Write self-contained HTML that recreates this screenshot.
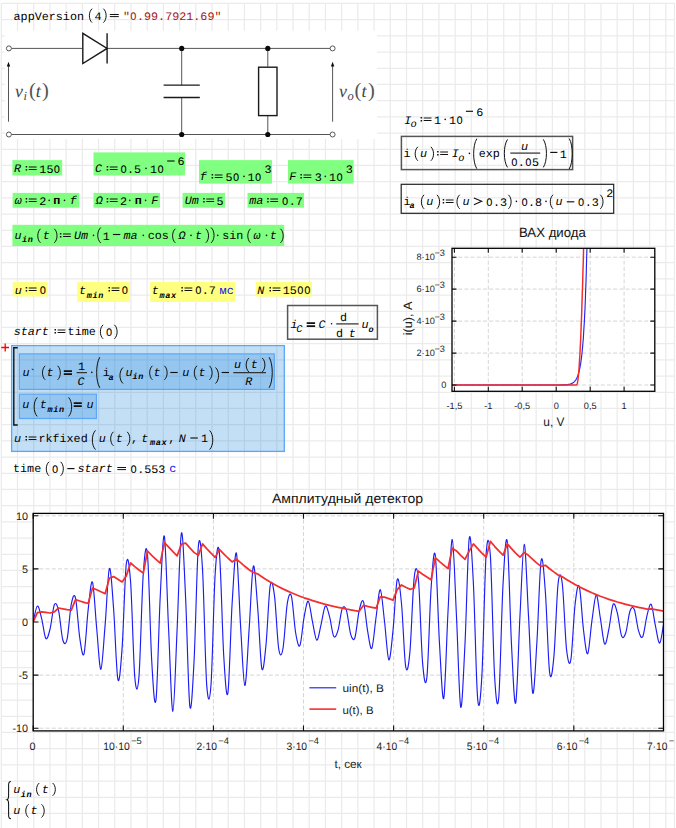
<!DOCTYPE html>
<html><head><meta charset="utf-8"><title>sheet</title>
<style>
html,body{margin:0;padding:0;background:#fff}
body{width:676px;height:828px;overflow:hidden;position:relative}
svg{position:absolute;left:0;top:0;display:block}
text{font-family:"Liberation Mono",monospace;font-size:11.5px;fill:#000;white-space:pre;text-rendering:geometricPrecision}
.i{font-style:italic}
.b{font-weight:bold}
.sb{font-style:italic;font-weight:bold;font-size:8.5px;letter-spacing:0.65px}
.si{font-style:italic;font-size:10.4px}
.str{fill:#a31515}
.un{fill:#0c0cf0}
.p{font-family:"Liberation Sans",sans-serif;font-size:9.2px;fill:#222}
.q{font-family:"Liberation Sans",sans-serif;font-size:10.8px;fill:#222}
.pt{font-family:"Liberation Sans",sans-serif;font-size:13.4px;fill:#111}
.pa{font-family:"Liberation Sans",sans-serif;font-size:12.2px;fill:#222}
.tex{font-family:"Liberation Serif",serif;font-style:italic;font-size:18px;fill:#444}
.texp{font-family:"Liberation Serif",serif;font-size:20.5px;fill:#555}
.texs{font-family:"Liberation Serif",serif;font-style:italic;font-size:12.5px;fill:#444}
</style></head><body>
<svg width="676" height="828" viewBox="0 0 676 828">
<path d="M1.30 3.45V828M17.51 3.45V828M33.72 3.45V828M49.92 3.45V828M66.13 3.45V828M82.34 3.45V828M98.54 3.45V828M114.75 3.45V828M130.96 3.45V828M147.17 3.45V828M163.38 3.45V828M179.58 3.45V828M195.79 3.45V828M212.00 3.45V828M228.21 3.45V828M244.41 3.45V828M260.62 3.45V828M276.83 3.45V828M293.04 3.45V828M309.24 3.45V828M325.45 3.45V828M341.66 3.45V828M357.86 3.45V828M374.07 3.45V828M390.28 3.45V828M406.49 3.45V828M422.69 3.45V828M438.90 3.45V828M455.11 3.45V828M471.32 3.45V828M487.52 3.45V828M503.73 3.45V828M519.94 3.45V828M536.15 3.45V828M552.35 3.45V828M568.56 3.45V828M584.77 3.45V828M600.98 3.45V828M617.18 3.45V828M633.39 3.45V828M649.60 3.45V828M665.81 3.45V828M674.5 3.45V828M1.3 3.45H674.5M1.3 19.65H674.5M1.3 35.85H674.5M1.3 52.05H674.5M1.3 68.25H674.5M1.3 84.45H674.5M1.3 100.65H674.5M1.3 116.85H674.5M1.3 133.05H674.5M1.3 149.25H674.5M1.3 165.45H674.5M1.3 181.65H674.5M1.3 197.85H674.5M1.3 214.05H674.5M1.3 230.25H674.5M1.3 246.45H674.5M1.3 262.65H674.5M1.3 278.85H674.5M1.3 295.05H674.5M1.3 311.25H674.5M1.3 327.45H674.5M1.3 343.65H674.5M1.3 359.85H674.5M1.3 376.05H674.5M1.3 392.25H674.5M1.3 408.45H674.5M1.3 424.65H674.5M1.3 440.85H674.5M1.3 457.05H674.5M1.3 473.25H674.5M1.3 489.45H674.5M1.3 505.65H674.5M1.3 521.85H674.5M1.3 538.05H674.5M1.3 554.25H674.5M1.3 570.45H674.5M1.3 586.65H674.5M1.3 602.85H674.5M1.3 619.05H674.5M1.3 635.25H674.5M1.3 651.45H674.5M1.3 667.65H674.5M1.3 683.85H674.5M1.3 700.05H674.5M1.3 716.25H674.5M1.3 732.45H674.5M1.3 748.65H674.5M1.3 764.85H674.5M1.3 781.05H674.5M1.3 797.25H674.5M1.3 813.45H674.5" stroke="#ebebeb" stroke-width="1.25" fill="none"/>
<rect x="4.8" y="30.7" width="372.2" height="108.5" fill="#fff"/>
<g stroke="#555" stroke-width="1" fill="none"><path d="M11.5 48.4H82.8M107.1 48.4H330.0M11.5 134.5H330.0M181.7 48.4V85.1M181.7 97.5V134.5M267.8 48.4V66.7M267.8 115.6V134.5"/><circle cx="8.9" cy="48.4" r="2.5" fill="#fff"/><circle cx="8.9" cy="134.5" r="2.5" fill="#fff"/><circle cx="332.6" cy="48.4" r="2.5" fill="#fff"/><circle cx="332.6" cy="134.5" r="2.5" fill="#fff"/><path d="M8.5 121.7V64M332.6 121.7V64"/></g>
<g fill="#0a0a0a"><circle cx="181.7" cy="48.4" r="2.6"/><circle cx="181.7" cy="134.5" r="2.6"/><circle cx="267.8" cy="48.4" r="2.6"/><circle cx="267.8" cy="134.5" r="2.6"/><path d="M8.5 61.8l-1.7 4.8h3.4zM332.6 61.8l-1.7 4.8h3.4z"/></g>
<g stroke="#1a1a1a" stroke-width="1.4" fill="none"><path d="M82.8 33.3V63.5L107.1 48.4ZM107.1 33.3V63.5M163.6 85.1H199.8M163.6 97.5H199.8"/><rect x="258.6" y="67.2" width="18.4" height="48.4" fill="#fff"/></g>
<text class="tex" x="15" y="96.5">v</text><text class="texs" x="23.5" y="99.7">i</text><text class="texp" x="29" y="97.3">(</text><text class="tex" x="35.8" y="96.5">t</text><text class="texp" x="42" y="97.3">)</text>
<text class="tex" x="339" y="96.5">v</text><text class="texs" x="347.5" y="99.7">o</text><text class="texp" x="354.6" y="97.3">(</text><text class="tex" x="361.5" y="96.5">t</text><text class="texp" x="368" y="97.3">)</text>
<rect x="12.4" y="160.1" width="49.8" height="15.4" fill="#80ff80"/><rect x="93.5" y="152.4" width="91.6" height="23.1" fill="#80ff80"/><rect x="199" y="160.1" width="73.0" height="23.5" fill="#80ff80"/><rect x="288" y="160.1" width="65.6" height="23.5" fill="#80ff80"/><rect x="12.6" y="192.9" width="66.7" height="14.8" fill="#80ff80"/><rect x="93.5" y="192.9" width="66.5" height="14.8" fill="#80ff80"/><rect x="182.6" y="192.9" width="42.4" height="14.8" fill="#80ff80"/><rect x="247.5" y="192.9" width="56.5" height="14.8" fill="#80ff80"/><rect x="12.4" y="224.8" width="271.8" height="21.2" fill="#80ff80"/><rect x="12.7" y="282" width="34.6" height="14.5" fill="#ffff80"/><rect x="77.2" y="282" width="52.8" height="20.0" fill="#ffff80"/><rect x="150.2" y="282" width="84.9" height="20.0" fill="#ffff80"/><rect x="255.8" y="282" width="56.2" height="14.6" fill="#ffff80"/>
<rect x="287.6" y="305.5" width="89.8" height="33.7" fill="none" stroke="#555" stroke-width="1.5"/>
<rect x="401.4" y="136.4" width="171.2" height="33.2" fill="none" stroke="#555" stroke-width="1.5"/>
<rect x="401.2" y="184.3" width="212.5" height="29" fill="none" stroke="#222" stroke-width="1.2"/>
<rect x="11.6" y="345.6" width="272.7" height="105.8" fill="#0078d7" fill-opacity="0.235" stroke="#5ba6f8" stroke-width="1.3"/>
<rect x="19.4" y="353.9" width="254.9" height="35.5" fill="#0078d7" fill-opacity="0.235" stroke="#5ba6f8" stroke-width="1.2"/>
<rect x="19.4" y="394.2" width="77" height="24.3" fill="#0078d7" fill-opacity="0.235" stroke="#5ba6f8" stroke-width="1.2"/>
<path d="M17.7 347.8H13.8V425H17.7" stroke="#111" stroke-width="1.4" fill="none"/>
<path d="M1.2 347.5H9M5.2 343.6V351.5" stroke="#ff0000" stroke-width="1.3" fill="none"/>
<text transform="translate(13.57 20.00) scale(1.0203 1)">appVersion</text><path d="M92.10 8.70C88.47 11.76 88.47 19.54 92.10 22.60" stroke="#111" stroke-width="1.0" fill="none"/><text transform="translate(94.51 20.00) scale(1.0203 1)">4</text><path d="M103.40 8.70C107.03 11.76 107.03 19.54 103.40 22.60" stroke="#111" stroke-width="1.0" fill="none"/><path d="M109.80 14.50h9.0M109.80 16.60h9.0" stroke="#111" stroke-width="1.0" fill="none"/><text transform="translate(122.91 20.00) scale(1.0203 1)" class="str">" .99.7921.69"</text><text transform="translate(130.37 20.00) scale(0.9 1)" class="str">O</text>
<text transform="translate(13.97 172.00) scale(1.0203 1)" class="i">R</text><path d="M28.80 166.90h7.8M28.80 169.50h7.8" stroke="#111" stroke-width="1.05" fill="none"/><path d="M25.70 166.00h1.5v1.5h-1.5zM25.70 168.90h1.5v1.5h-1.5z" fill="#111"/><text transform="translate(39.35 173.00) scale(1.0203 1)">15 </text><text transform="translate(53.85 173.00) scale(0.9 1)">O</text><text transform="translate(94.94 172.00) scale(1.0203 1)" class="i">C</text><path d="M109.80 166.90h7.8M109.80 169.50h7.8" stroke="#111" stroke-width="1.05" fill="none"/><path d="M106.70 166.00h1.5v1.5h-1.5zM106.70 168.90h1.5v1.5h-1.5z" fill="#111"/><text transform="translate(119.99 173.00) scale(1.0203 1)"> .5</text><text transform="translate(120.40 173.00) scale(0.9 1)">O</text><circle cx="146.00" cy="168.40" r="0.8" fill="#111"/><text transform="translate(149.95 173.00) scale(1.0203 1)">1 </text><text transform="translate(157.41 173.00) scale(0.9 1)">O</text><path d="M167.20 161.00h7.4" stroke="#111" stroke-width="1.15" fill="none"/><text transform="translate(177.43 165.00) scale(1.0203 1)">6</text><text transform="translate(199.76 180.00) scale(1.0203 1)" class="i">f</text><path d="M214.70 174.90h7.8M214.70 177.50h7.8" stroke="#111" stroke-width="1.05" fill="none"/><path d="M211.60 174.00h1.5v1.5h-1.5zM211.60 176.90h1.5v1.5h-1.5z" fill="#111"/><text transform="translate(225.47 181.00) scale(1.0203 1)">5 </text><text transform="translate(232.92 181.00) scale(0.9 1)">O</text><circle cx="244.00" cy="176.40" r="0.8" fill="#111"/><text transform="translate(247.55 181.00) scale(1.0203 1)">1 </text><text transform="translate(255.01 181.00) scale(0.9 1)">O</text><text transform="translate(264.47 173.00) scale(1.0203 1)">3</text><text transform="translate(289.29 180.00) scale(1.0203 1)" class="i">F</text><path d="M303.50 174.90h7.8M303.50 177.50h7.8" stroke="#111" stroke-width="1.05" fill="none"/><path d="M300.40 174.00h1.5v1.5h-1.5zM300.40 176.90h1.5v1.5h-1.5z" fill="#111"/><text transform="translate(314.87 181.00) scale(1.0203 1)">3</text><circle cx="325.30" cy="176.40" r="0.8" fill="#111"/><text transform="translate(328.95 181.00) scale(1.0203 1)">1 </text><text transform="translate(336.41 181.00) scale(0.9 1)">O</text><text transform="translate(345.77 173.00) scale(1.0203 1)">3</text><text transform="translate(14.65 204.00) scale(1.0203 1)" class="i">ω</text><path d="M28.80 198.90h7.8M28.80 201.50h7.8" stroke="#111" stroke-width="1.05" fill="none"/><path d="M25.70 198.00h1.5v1.5h-1.5zM25.70 200.90h1.5v1.5h-1.5z" fill="#111"/><text transform="translate(39.17 205.00) scale(1.0203 1)">2</text><circle cx="49.20" cy="200.40" r="0.8" fill="#111"/><text transform="translate(53.31 204.00) scale(1.0203 1)" class="b">п</text><circle cx="64.50" cy="200.40" r="0.8" fill="#111"/><text transform="translate(69.76 204.00) scale(1.0203 1)" class="i">f</text><text transform="translate(95.86 204.00) scale(1.0203 1)" class="i">Ω</text><path d="M109.80 198.90h7.8M109.80 201.50h7.8" stroke="#111" stroke-width="1.05" fill="none"/><path d="M106.70 198.00h1.5v1.5h-1.5zM106.70 200.90h1.5v1.5h-1.5z" fill="#111"/><text transform="translate(119.88 205.00) scale(1.0203 1)">2</text><circle cx="129.80" cy="200.40" r="0.8" fill="#111"/><text transform="translate(134.71 204.00) scale(1.0203 1)" class="b">п</text><circle cx="145.60" cy="200.40" r="0.8" fill="#111"/><text transform="translate(151.29 204.00) scale(1.0203 1)" class="i">F</text><text transform="translate(184.77 204.00) scale(1.0203 1)" class="i">Um</text><path d="M206.30 198.90h7.8M206.30 201.50h7.8" stroke="#111" stroke-width="1.05" fill="none"/><path d="M203.20 198.00h1.5v1.5h-1.5zM203.20 200.90h1.5v1.5h-1.5z" fill="#111"/><text transform="translate(216.57 205.00) scale(1.0203 1)">5</text><text transform="translate(249.30 204.00) scale(1.0203 1)" class="i">ma</text><path d="M270.30 198.90h7.8M270.30 201.50h7.8" stroke="#111" stroke-width="1.05" fill="none"/><path d="M267.20 198.00h1.5v1.5h-1.5zM267.20 200.90h1.5v1.5h-1.5z" fill="#111"/><text transform="translate(281.69 205.00) scale(1.0203 1)"> .7</text><text transform="translate(282.10 205.00) scale(0.9 1)">O</text>
<text transform="translate(14.43 239.00) scale(1.0203 1)" class="i">u</text><text x="21.95" y="242.20" class="sb">in</text><path d="M40.50 228.80C36.88 231.88 36.88 239.72 40.50 242.80" stroke="#111" stroke-width="1.0" fill="none"/><text transform="translate(42.66 239.00) scale(1.0203 1)" class="i">t</text><path d="M54.30 228.80C57.92 231.88 57.92 239.72 54.30 242.80" stroke="#111" stroke-width="1.0" fill="none"/><path d="M63.00 233.90h7.8M63.00 236.50h7.8" stroke="#111" stroke-width="1.05" fill="none"/><path d="M59.90 233.00h1.5v1.5h-1.5zM59.90 235.90h1.5v1.5h-1.5z" fill="#111"/><text transform="translate(73.97 239.00) scale(1.0203 1)" class="i">Um</text><circle cx="93.50" cy="235.40" r="0.8" fill="#111"/><path d="M100.80 227.50C96.74 230.91 96.74 239.59 100.80 243.00" stroke="#111" stroke-width="1.0" fill="none"/><text transform="translate(102.75 240.00) scale(1.0203 1)">1</text><path d="M112.90 234.50h7.4" stroke="#111" stroke-width="1.15" fill="none"/><text transform="translate(123.50 239.00) scale(1.0203 1)" class="i">ma</text><circle cx="143.30" cy="235.40" r="0.8" fill="#111"/><text transform="translate(147.66 239.00) scale(1.0203 1)">cos</text><path d="M175.30 228.80C171.68 231.88 171.68 239.72 175.30 242.80" stroke="#111" stroke-width="1.0" fill="none"/><text transform="translate(178.46 239.00) scale(1.0203 1)" class="i">Ω</text><circle cx="191.00" cy="235.40" r="0.8" fill="#111"/><text transform="translate(195.06 239.00) scale(1.0203 1)" class="i">t</text><path d="M205.80 228.80C209.43 231.88 209.43 239.72 205.80 242.80" stroke="#111" stroke-width="1.0" fill="none"/><path d="M211.00 227.50C215.06 230.91 215.06 239.59 211.00 243.00" stroke="#111" stroke-width="1.0" fill="none"/><circle cx="217.70" cy="235.40" r="0.8" fill="#111"/><text transform="translate(222.24 239.00) scale(1.0203 1)">sin</text><path d="M250.50 228.80C246.88 231.88 246.88 239.72 250.50 242.80" stroke="#111" stroke-width="1.0" fill="none"/><text transform="translate(253.45 239.00) scale(1.0203 1)" class="i">ω</text><circle cx="266.50" cy="235.40" r="0.8" fill="#111"/><text transform="translate(269.86 239.00) scale(1.0203 1)" class="i">t</text><path d="M280.50 228.80C284.12 231.88 284.12 239.72 280.50 242.80" stroke="#111" stroke-width="1.0" fill="none"/>
<text transform="translate(14.73 294.00) scale(1.0203 1)" class="i">u</text><path d="M28.80 287.90h7.8M28.80 290.50h7.8" stroke="#111" stroke-width="1.05" fill="none"/><path d="M25.70 287.00h1.5v1.5h-1.5zM25.70 289.90h1.5v1.5h-1.5z" fill="#111"/><text transform="translate(39.70 294.00) scale(0.9 1)">O</text><text transform="translate(79.06 294.00) scale(1.0203 1)" class="i">t</text><text x="86.72" y="297.80" class="sb">min</text><path d="M111.60 287.90h7.8M111.60 290.50h7.8" stroke="#111" stroke-width="1.05" fill="none"/><path d="M108.50 287.00h1.5v1.5h-1.5zM108.50 289.90h1.5v1.5h-1.5z" fill="#111"/><text transform="translate(121.70 294.00) scale(0.9 1)">O</text><text transform="translate(151.76 294.00) scale(1.0203 1)" class="i">t</text><text x="159.42" y="297.80" class="sb">max</text><path d="M184.50 287.90h7.8M184.50 290.50h7.8" stroke="#111" stroke-width="1.05" fill="none"/><path d="M181.40 287.00h1.5v1.5h-1.5zM181.40 289.90h1.5v1.5h-1.5z" fill="#111"/><text transform="translate(194.79 294.00) scale(1.0203 1)"> .7</text><text transform="translate(195.20 294.00) scale(0.9 1)">O</text><text transform="translate(219.62 294.00) scale(1.0203 1)" class="un">мс</text><text transform="translate(257.27 294.00) scale(1.0203 1)" class="i">N</text><path d="M272.60 287.90h7.8M272.60 290.50h7.8" stroke="#111" stroke-width="1.05" fill="none"/><path d="M269.50 287.00h1.5v1.5h-1.5zM269.50 289.90h1.5v1.5h-1.5z" fill="#111"/><text transform="translate(282.65 294.00) scale(1.0203 1)">15  </text><text transform="translate(297.15 294.00) scale(0.9 1)">O</text><text transform="translate(304.19 294.00) scale(0.9 1)">O</text>
<text transform="translate(13.67 335.00) scale(1.0203 1)" class="i">start</text><path d="M57.60 329.90h7.8M57.60 332.50h7.8" stroke="#111" stroke-width="1.05" fill="none"/><path d="M54.50 329.00h1.5v1.5h-1.5zM54.50 331.90h1.5v1.5h-1.5z" fill="#111"/><text transform="translate(67.61 335.00) scale(1.0203 1)">time</text><path d="M103.10 324.80C99.47 327.88 99.47 335.72 103.10 338.80" stroke="#111" stroke-width="1.0" fill="none"/><text transform="translate(106.10 336.00) scale(0.9 1)">O</text><path d="M114.40 324.80C118.03 327.88 118.03 335.72 114.40 338.80" stroke="#111" stroke-width="1.0" fill="none"/>
<text transform="translate(290.38 328.00) scale(1.0203 1)" class="i">i</text><text x="296.21" y="332.00" class="si">C</text><path d="M306.70 323.10h8.4M306.70 326.00h8.4" stroke="#111" stroke-width="1.75" fill="none"/><text transform="translate(318.44 328.00) scale(1.0203 1)" class="i">C</text><circle cx="331.6" cy="323.7" r="0.8" fill="#111"/><text transform="translate(340.11 321.00) scale(1.0203 1)">d</text><path d="M336.20 323.90H358.60" stroke="#333" stroke-width="1.25" fill="none"/><text transform="translate(335.91 337.00) scale(1.0203 1)">d</text><text transform="translate(348.66 337.00) scale(1.0203 1)" class="i">t</text><text transform="translate(361.53 328.00) scale(1.0203 1)" class="i">u</text><text x="368.48" y="332.00" class="sb">o</text>
<text transform="translate(22.53 376.00) scale(1.0203 1)" class="i">u</text><text transform="translate(29.30 377.00) scale(1.0203 1)">`</text><path d="M45.20 365.80C41.58 368.88 41.58 376.72 45.20 379.80" stroke="#111" stroke-width="1.0" fill="none"/><text transform="translate(46.56 376.00) scale(1.0203 1)" class="i">t</text><path d="M57.60 365.80C61.23 368.88 61.23 376.72 57.60 379.80" stroke="#111" stroke-width="1.0" fill="none"/><path d="M63.80 371.10h8.2M63.80 374.00h8.2" stroke="#111" stroke-width="1.75" fill="none"/><text transform="translate(77.95 370.00) scale(1.0203 1)">1</text><path d="M76.60 372.60H87.00" stroke="#333" stroke-width="1.25" fill="none"/><text transform="translate(77.54 385.00) scale(1.0203 1)" class="i">C</text><circle cx="91.80" cy="372.40" r="0.8" fill="#111"/><path d="M99.80 357.20C95.59 363.93 95.59 381.07 99.80 387.80" stroke="#111" stroke-width="1.0" fill="none"/><text transform="translate(102.78 376.00) scale(1.0203 1)">i</text><text x="108.39" y="379.60" class="sb">a</text><path d="M123.00 367.50C118.94 371.02 118.94 379.98 123.00 383.50" stroke="#111" stroke-width="1.0" fill="none"/><text transform="translate(125.43 376.00) scale(1.0203 1)" class="i">u</text><text x="132.55" y="379.40" class="sb">in</text><path d="M152.40 365.80C148.78 368.88 148.78 376.72 152.40 379.80" stroke="#111" stroke-width="1.0" fill="none"/><text transform="translate(153.56 376.00) scale(1.0203 1)" class="i">t</text><path d="M164.40 365.80C168.03 368.88 168.03 376.72 164.40 379.80" stroke="#111" stroke-width="1.0" fill="none"/><path d="M170.30 372.50h7.4" stroke="#111" stroke-width="1.15" fill="none"/><text transform="translate(182.13 376.00) scale(1.0203 1)" class="i">u</text><path d="M197.00 365.80C193.38 368.88 193.38 376.72 197.00 379.80" stroke="#111" stroke-width="1.0" fill="none"/><text transform="translate(198.46 376.00) scale(1.0203 1)" class="i">t</text><path d="M209.40 365.80C213.03 368.88 213.03 376.72 209.40 379.80" stroke="#111" stroke-width="1.0" fill="none"/><path d="M215.50 367.50C219.56 371.02 219.56 379.98 215.50 383.50" stroke="#111" stroke-width="1.0" fill="none"/><path d="M221.60 372.50h7.4" stroke="#111" stroke-width="1.15" fill="none"/><text transform="translate(234.03 368.00) scale(1.0203 1)" class="i">u</text><path d="M248.90 358.00C245.28 361.08 245.28 368.92 248.90 372.00" stroke="#111" stroke-width="1.0" fill="none"/><text transform="translate(250.66 368.00) scale(1.0203 1)" class="i">t</text><path d="M262.20 358.00C265.82 361.08 265.82 368.92 262.20 372.00" stroke="#111" stroke-width="1.0" fill="none"/><path d="M233.30 372.50H266.00" stroke="#333" stroke-width="1.25" fill="none"/><text transform="translate(245.27 385.00) scale(1.0203 1)" class="i">R</text><path d="M269.10 357.20C273.31 363.93 273.31 381.07 269.10 387.80" stroke="#111" stroke-width="1.0" fill="none"/>
<text transform="translate(22.13 408.00) scale(1.0203 1)" class="i">u</text><path d="M37.20 397.40C33.14 401.58 33.14 412.22 37.20 416.40" stroke="#111" stroke-width="1.0" fill="none"/><text transform="translate(39.76 408.00) scale(1.0203 1)" class="i">t</text><text x="47.52" y="412.00" class="sb">min</text><path d="M68.60 397.40C72.66 401.58 72.66 412.22 68.60 416.40" stroke="#111" stroke-width="1.0" fill="none"/><path d="M73.70 403.10h8.1M73.70 406.00h8.1" stroke="#111" stroke-width="1.75" fill="none"/><text transform="translate(86.43 408.00) scale(1.0203 1)" class="i">u</text>
<text transform="translate(14.03 442.00) scale(1.0203 1)" class="i">u</text><path d="M28.60 436.90h7.8M28.60 439.50h7.8" stroke="#111" stroke-width="1.05" fill="none"/><path d="M25.50 436.00h1.5v1.5h-1.5zM25.50 438.90h1.5v1.5h-1.5z" fill="#111"/><text transform="translate(38.41 442.00) scale(1.0203 1)">rkfixed</text><path d="M95.50 430.40C91.29 434.62 91.29 445.38 95.50 449.60" stroke="#111" stroke-width="1.0" fill="none"/><text transform="translate(98.63 442.00) scale(1.0203 1)" class="i">u</text><path d="M113.40 431.80C109.78 434.88 109.78 442.72 113.40 445.80" stroke="#111" stroke-width="1.0" fill="none"/><text transform="translate(115.66 442.00) scale(1.0203 1)" class="i">t</text><path d="M127.10 431.80C130.72 434.88 130.72 442.72 127.10 445.80" stroke="#111" stroke-width="1.0" fill="none"/><text transform="translate(131.12 442.00) scale(1.0203 1)">,</text><text transform="translate(141.16 442.00) scale(1.0203 1)" class="i">t</text><text x="150.12" y="445.20" class="sb">max</text><text transform="translate(168.22 442.00) scale(1.0203 1)">,</text><text transform="translate(178.77 442.00) scale(1.0203 1)" class="i">N</text><path d="M190.40 438.00h7.4" stroke="#111" stroke-width="1.15" fill="none"/><text transform="translate(201.05 442.00) scale(1.0203 1)">1</text><path d="M209.60 430.40C213.81 434.62 213.81 445.38 209.60 449.60" stroke="#111" stroke-width="1.0" fill="none"/>
<text transform="translate(13.01 472.00) scale(1.0203 1)">time</text><path d="M49.00 461.80C45.38 464.88 45.38 472.72 49.00 475.80" stroke="#111" stroke-width="1.0" fill="none"/><text transform="translate(51.90 473.00) scale(0.9 1)">O</text><path d="M60.60 461.80C64.22 464.88 64.22 472.72 60.60 475.80" stroke="#111" stroke-width="1.0" fill="none"/><path d="M67.30 468.60h7.2" stroke="#111" stroke-width="1.15" fill="none"/><text transform="translate(77.57 472.00) scale(1.0203 1)" class="i">start</text><path d="M117.30 467.50h8.7M117.30 469.60h8.7" stroke="#111" stroke-width="1.0" fill="none"/><text transform="translate(130.19 473.00) scale(1.0203 1)"> .553</text><text transform="translate(130.60 473.00) scale(0.9 1)">O</text><text transform="translate(169.26 472.00) scale(1.0203 1)" class="un">с</text>
<path d="M10.9 781.4Q8.6 781.4 8.6 784.8V795.6Q8.6 799.4 7.1 799.8Q8.6 800.2 8.6 804V815.2Q8.6 818.6 10.9 818.6" stroke="#111" stroke-width="1.05" fill="none"/><text transform="translate(13.23 793.00) scale(1.0203 1)" class="i">u</text><text x="20.75" y="796.80" class="sb">in</text><path d="M39.30 783.00C35.67 785.82 35.67 792.98 39.30 795.80" stroke="#111" stroke-width="1.0" fill="none"/><text transform="translate(41.66 793.00) scale(1.0203 1)" class="i">t</text><path d="M52.60 783.00C56.23 785.82 56.23 792.98 52.60 795.80" stroke="#111" stroke-width="1.0" fill="none"/><text transform="translate(13.23 814.00) scale(1.0203 1)" class="i">u</text><path d="M28.50 804.30C24.88 807.20 24.88 814.60 28.50 817.50" stroke="#111" stroke-width="1.0" fill="none"/><text transform="translate(30.46 814.00) scale(1.0203 1)" class="i">t</text><path d="M41.50 804.30C45.12 807.20 45.12 814.60 41.50 817.50" stroke="#111" stroke-width="1.0" fill="none"/>
<text transform="translate(404.24 124.00) scale(1.0203 1)" class="i">I</text><text x="410.43" y="127.40" class="si">o</text><path d="M423.70 117.90h7.8M423.70 120.50h7.8" stroke="#111" stroke-width="1.05" fill="none"/><path d="M420.60 117.00h1.5v1.5h-1.5zM420.60 119.90h1.5v1.5h-1.5z" fill="#111"/><text transform="translate(434.05 124.00) scale(1.0203 1)">1</text><circle cx="445.20" cy="119.40" r="0.8" fill="#111"/><text transform="translate(448.95 124.00) scale(1.0203 1)">1 </text><text transform="translate(456.41 124.00) scale(0.9 1)">O</text><path d="M465.90 111.30h7.1" stroke="#111" stroke-width="1.15" fill="none"/><text transform="translate(476.33 116.00) scale(1.0203 1)">6</text><text transform="translate(403.38 157.00) scale(1.0203 1)">i</text><path d="M417.90 146.80C414.27 149.88 414.27 157.72 417.90 160.80" stroke="#111" stroke-width="1.0" fill="none"/><text transform="translate(420.03 157.00) scale(1.0203 1)" class="i">u</text><path d="M430.80 146.80C434.43 149.88 434.43 157.72 430.80 160.80" stroke="#111" stroke-width="1.0" fill="none"/><path d="M440.20 151.90h7.8M440.20 154.50h7.8" stroke="#111" stroke-width="1.05" fill="none"/><path d="M437.10 151.00h1.5v1.5h-1.5zM437.10 153.90h1.5v1.5h-1.5z" fill="#111"/><text transform="translate(451.74 157.00) scale(1.0203 1)" class="i">I</text><text x="458.13" y="160.80" class="si">o</text><circle cx="469.40" cy="153.40" r="0.8" fill="#111"/><path d="M476.80 138.70C472.59 145.30 472.59 162.10 476.80 168.70" stroke="#111" stroke-width="1.0" fill="none"/><text transform="translate(478.64 157.00) scale(1.0203 1)">exp</text><path d="M507.50 139.40C503.30 145.56 503.30 161.24 507.50 167.40" stroke="#111" stroke-width="1.0" fill="none"/><text transform="translate(520.93 150.00) scale(1.0203 1)" class="i">u</text><path d="M510.30 153.10H540.20" stroke="#333" stroke-width="1.25" fill="none"/><text transform="translate(510.79 166.00) scale(1.0203 1)"> . 5</text><text transform="translate(511.20 166.00) scale(0.9 1)">O</text><text transform="translate(525.28 166.00) scale(0.9 1)">O</text><path d="M543.30 139.40C547.50 145.56 547.50 161.24 543.30 167.40" stroke="#111" stroke-width="1.0" fill="none"/><path d="M550.20 152.40h7.2" stroke="#111" stroke-width="1.15" fill="none"/><text transform="translate(559.85 158.00) scale(1.0203 1)">1</text><path d="M569.20 138.50C573.26 145.21 573.26 162.29 569.20 169.00" stroke="#111" stroke-width="1.0" fill="none"/>
<text transform="translate(403.38 205.00) scale(1.0203 1)">i</text><text x="409.59" y="208.40" class="sb">a</text><path d="M424.10 194.80C420.48 197.88 420.48 205.72 424.10 208.80" stroke="#111" stroke-width="1.0" fill="none"/><text transform="translate(426.23 205.00) scale(1.0203 1)" class="i">u</text><path d="M436.90 194.80C440.52 197.88 440.52 205.72 436.90 208.80" stroke="#111" stroke-width="1.0" fill="none"/><path d="M445.80 199.90h7.8M445.80 202.50h7.8" stroke="#111" stroke-width="1.05" fill="none"/><path d="M442.70 199.00h1.5v1.5h-1.5zM442.70 201.90h1.5v1.5h-1.5z" fill="#111"/><path d="M459.70 194.80C456.07 197.88 456.07 205.72 459.70 208.80" stroke="#111" stroke-width="1.0" fill="none"/><text transform="translate(462.43 205.00) scale(1.0203 1)" class="i">u</text><path d="M473.9 197.9L481.7 201.3L473.9 204.7" stroke="#111" stroke-width="1.1" fill="none"/><text transform="translate(485.89 206.00) scale(1.0203 1)"> .3</text><text transform="translate(486.30 206.00) scale(0.9 1)">O</text><path d="M508.40 194.80C512.02 197.88 512.02 205.72 508.40 208.80" stroke="#111" stroke-width="1.0" fill="none"/><circle cx="516.40" cy="201.40" r="0.8" fill="#111"/><text transform="translate(520.99 206.00) scale(1.0203 1)"> .8</text><text transform="translate(521.40 206.00) scale(0.9 1)">O</text><circle cx="546.00" cy="201.40" r="0.8" fill="#111"/><path d="M553.00 194.80C549.38 197.88 549.38 205.72 553.00 208.80" stroke="#111" stroke-width="1.0" fill="none"/><text transform="translate(555.53 205.00) scale(1.0203 1)" class="i">u</text><path d="M566.80 201.80h7.5" stroke="#111" stroke-width="1.15" fill="none"/><text transform="translate(577.59 206.00) scale(1.0203 1)"> .3</text><text transform="translate(578.00 206.00) scale(0.9 1)">O</text><path d="M600.30 194.80C603.92 197.88 603.92 205.72 600.30 208.80" stroke="#111" stroke-width="1.0" fill="none"/><text transform="translate(606.17 197.00) scale(1.0203 1)">2</text>
<rect x="452.0" y="248.3" width="202.8" height="143.0" fill="#fff"/><path d="M454.4 248.3V391.3M488.3 248.3V391.3M522.2 248.3V391.3M556.2 248.3V391.3M590.2 248.3V391.3M624.1 248.3V391.3M452.0 385.0H654.8M452.0 353.1H654.8M452.0 321.1H654.8M452.0 289.1H654.8M452.0 257.2H654.8" stroke="#cdcdcd" stroke-width="0.85" stroke-dasharray="4 2.2" fill="none"/><clipPath id="c1"><rect x="452.0" y="248.3" width="202.8" height="143.0"/></clipPath><g clip-path="url(#c1)" fill="none"><polyline points="452.3,385.0 452.7,385.0 453.0,385.0 453.3,385.0 453.7,385.0 454.0,385.0 454.3,385.0 454.7,385.0 455.0,385.0 455.4,385.0 455.7,385.0 456.0,385.0 456.4,385.0 456.7,385.0 457.1,385.0 457.4,385.0 457.7,385.0 458.1,385.0 458.4,385.0 458.7,385.0 459.1,385.0 459.4,385.0 459.8,385.0 460.1,385.0 460.4,385.0 460.8,385.0 461.1,385.0 461.4,385.0 461.8,385.0 462.1,385.0 462.5,385.0 462.8,385.0 463.1,385.0 463.5,385.0 463.8,385.0 464.2,385.0 464.5,385.0 464.8,385.0 465.2,385.0 465.5,385.0 465.8,385.0 466.2,385.0 466.5,385.0 466.9,385.0 467.2,385.0 467.5,385.0 467.9,385.0 468.2,385.0 468.6,385.0 468.9,385.0 469.2,385.0 469.6,385.0 469.9,385.0 470.2,385.0 470.6,385.0 470.9,385.0 471.3,385.0 471.6,385.0 471.9,385.0 472.3,385.0 472.6,385.0 473.0,385.0 473.3,385.0 473.6,385.0 474.0,385.0 474.3,385.0 474.6,385.0 475.0,385.0 475.3,385.0 475.7,385.0 476.0,385.0 476.3,385.0 476.7,385.0 477.0,385.0 477.4,385.0 477.7,385.0 478.0,385.0 478.4,385.0 478.7,385.0 479.0,385.0 479.4,385.0 479.7,385.0 480.1,385.0 480.4,385.0 480.7,385.0 481.1,385.0 481.4,385.0 481.8,385.0 482.1,385.0 482.4,385.0 482.8,385.0 483.1,385.0 483.4,385.0 483.8,385.0 484.1,385.0 484.5,385.0 484.8,385.0 485.1,385.0 485.5,385.0 485.8,385.0 486.1,385.0 486.5,385.0 486.8,385.0 487.2,385.0 487.5,385.0 487.8,385.0 488.2,385.0 488.5,385.0 488.9,385.0 489.2,385.0 489.5,385.0 489.9,385.0 490.2,385.0 490.5,385.0 490.9,385.0 491.2,385.0 491.6,385.0 491.9,385.0 492.2,385.0 492.6,385.0 492.9,385.0 493.3,385.0 493.6,385.0 493.9,385.0 494.3,385.0 494.6,385.0 494.9,385.0 495.3,385.0 495.6,385.0 496.0,385.0 496.3,385.0 496.6,385.0 497.0,385.0 497.3,385.0 497.7,385.0 498.0,385.0 498.3,385.0 498.7,385.0 499.0,385.0 499.3,385.0 499.7,385.0 500.0,385.0 500.4,385.0 500.7,385.0 501.0,385.0 501.4,385.0 501.7,385.0 502.1,385.0 502.4,385.0 502.7,385.0 503.1,385.0 503.4,385.0 503.7,385.0 504.1,385.0 504.4,385.0 504.8,385.0 505.1,385.0 505.4,385.0 505.8,385.0 506.1,385.0 506.5,385.0 506.8,385.0 507.1,385.0 507.5,385.0 507.8,385.0 508.1,385.0 508.5,385.0 508.8,385.0 509.2,385.0 509.5,385.0 509.8,385.0 510.2,385.0 510.5,385.0 510.9,385.0 511.2,385.0 511.5,385.0 511.9,385.0 512.2,385.0 512.5,385.0 512.9,385.0 513.2,385.0 513.6,385.0 513.9,385.0 514.2,385.0 514.6,385.0 514.9,385.0 515.2,385.0 515.6,385.0 515.9,385.0 516.3,385.0 516.6,385.0 516.9,385.0 517.3,385.0 517.6,385.0 518.0,385.0 518.3,385.0 518.6,385.0 519.0,385.0 519.3,385.0 519.6,385.0 520.0,385.0 520.3,385.0 520.7,385.0 521.0,385.0 521.3,385.0 521.7,385.0 522.0,385.0 522.4,385.0 522.7,385.0 523.0,385.0 523.4,385.0 523.7,385.0 524.0,385.0 524.4,385.0 524.7,385.0 525.1,385.0 525.4,385.0 525.7,385.0 526.1,385.0 526.4,385.0 526.8,385.0 527.1,385.0 527.4,385.0 527.8,385.0 528.1,385.0 528.4,385.0 528.8,385.0 529.1,385.0 529.5,385.0 529.8,385.0 530.1,385.0 530.5,385.0 530.8,385.0 531.2,385.0 531.5,385.0 531.8,385.0 532.2,385.0 532.5,385.0 532.8,385.0 533.2,385.0 533.5,385.0 533.9,385.0 534.2,385.0 534.5,385.0 534.9,385.0 535.2,385.0 535.6,385.0 535.9,385.0 536.2,385.0 536.6,385.0 536.9,385.0 537.2,385.0 537.6,385.0 537.9,385.0 538.3,385.0 538.6,385.0 538.9,385.0 539.3,385.0 539.6,385.0 540.0,385.0 540.3,385.0 540.6,385.0 541.0,385.0 541.3,385.0 541.6,385.0 542.0,385.0 542.3,385.0 542.7,385.0 543.0,385.0 543.3,385.0 543.7,385.0 544.0,385.0 544.3,385.0 544.7,385.0 545.0,385.0 545.4,385.0 545.7,385.0 546.0,385.0 546.4,385.0 546.7,385.0 547.1,385.0 547.4,385.0 547.7,385.0 548.1,385.0 548.4,385.0 548.7,385.0 549.1,385.0 549.4,385.0 549.8,385.0 550.1,385.0 550.4,385.0 550.8,385.0 551.1,385.0 551.5,385.0 551.8,385.0 552.1,385.0 552.5,385.0 552.8,385.0 553.1,385.0 553.5,385.0 553.8,385.0 554.2,385.0 554.5,385.0 554.8,385.0 555.2,385.0 555.5,385.0 555.9,385.0 556.2,385.0 556.5,385.0 556.9,385.0 557.2,385.0 557.5,385.0 557.9,385.0 558.2,385.0 558.6,385.0 558.9,385.0 559.2,385.0 559.6,385.0 559.9,385.0 560.3,385.0 560.6,385.0 560.9,385.0 561.3,384.9 561.6,384.9 561.9,384.9 562.3,384.9 562.6,384.9 563.0,384.9 563.3,384.9 563.6,384.9 564.0,384.9 564.3,384.8 564.7,384.8 565.0,384.8 565.3,384.8 565.7,384.8 566.0,384.7 566.3,384.7 566.7,384.7 567.0,384.6 567.4,384.6 567.7,384.5 568.0,384.5 568.4,384.4 568.7,384.4 569.1,384.3 569.4,384.2 569.7,384.2 570.1,384.1 570.4,384.0 570.7,383.9 571.1,383.7 571.4,383.6 571.8,383.5 572.1,383.3 572.4,383.1 572.8,382.9 573.1,382.7 573.4,382.4 573.8,382.2 574.1,381.9 574.5,381.6 574.8,381.2 575.1,380.8 575.5,380.3 575.8,379.9 576.2,379.3 576.5,378.7 576.8,378.1 577.2,377.3 577.5,376.5 577.8,375.6 578.2,374.6 578.5,373.6 578.9,372.4 579.2,371.0 579.5,369.6 579.9,367.9 580.2,366.2 580.6,364.2 580.9,362.0 581.2,359.6 581.6,356.9 581.9,354.0 582.2,350.7 582.6,347.1 582.9,343.1 583.3,338.8 583.6,333.9 583.9,328.6 584.3,322.6 584.6,316.1 585.0,308.9 585.3,300.9 585.6,292.1 586.0,282.3 586.3,271.6 586.6,259.7 587.0,246.6 587.3,232.0 587.7,216.0 588.0,198.3 588.3,178.7 588.7,157.1 589.0,133.2 589.4,106.8 589.7,77.7" stroke="#2222f2" stroke-width="1.15"/><polyline points="452.3,385.0 452.7,385.0 453.0,385.0 453.3,385.0 453.7,385.0 454.0,385.0 454.3,385.0 454.7,385.0 455.0,385.0 455.4,385.0 455.7,385.0 456.0,385.0 456.4,385.0 456.7,385.0 457.1,385.0 457.4,385.0 457.7,385.0 458.1,385.0 458.4,385.0 458.7,385.0 459.1,385.0 459.4,385.0 459.8,385.0 460.1,385.0 460.4,385.0 460.8,385.0 461.1,385.0 461.4,385.0 461.8,385.0 462.1,385.0 462.5,385.0 462.8,385.0 463.1,385.0 463.5,385.0 463.8,385.0 464.2,385.0 464.5,385.0 464.8,385.0 465.2,385.0 465.5,385.0 465.8,385.0 466.2,385.0 466.5,385.0 466.9,385.0 467.2,385.0 467.5,385.0 467.9,385.0 468.2,385.0 468.6,385.0 468.9,385.0 469.2,385.0 469.6,385.0 469.9,385.0 470.2,385.0 470.6,385.0 470.9,385.0 471.3,385.0 471.6,385.0 471.9,385.0 472.3,385.0 472.6,385.0 473.0,385.0 473.3,385.0 473.6,385.0 474.0,385.0 474.3,385.0 474.6,385.0 475.0,385.0 475.3,385.0 475.7,385.0 476.0,385.0 476.3,385.0 476.7,385.0 477.0,385.0 477.4,385.0 477.7,385.0 478.0,385.0 478.4,385.0 478.7,385.0 479.0,385.0 479.4,385.0 479.7,385.0 480.1,385.0 480.4,385.0 480.7,385.0 481.1,385.0 481.4,385.0 481.8,385.0 482.1,385.0 482.4,385.0 482.8,385.0 483.1,385.0 483.4,385.0 483.8,385.0 484.1,385.0 484.5,385.0 484.8,385.0 485.1,385.0 485.5,385.0 485.8,385.0 486.1,385.0 486.5,385.0 486.8,385.0 487.2,385.0 487.5,385.0 487.8,385.0 488.2,385.0 488.5,385.0 488.9,385.0 489.2,385.0 489.5,385.0 489.9,385.0 490.2,385.0 490.5,385.0 490.9,385.0 491.2,385.0 491.6,385.0 491.9,385.0 492.2,385.0 492.6,385.0 492.9,385.0 493.3,385.0 493.6,385.0 493.9,385.0 494.3,385.0 494.6,385.0 494.9,385.0 495.3,385.0 495.6,385.0 496.0,385.0 496.3,385.0 496.6,385.0 497.0,385.0 497.3,385.0 497.7,385.0 498.0,385.0 498.3,385.0 498.7,385.0 499.0,385.0 499.3,385.0 499.7,385.0 500.0,385.0 500.4,385.0 500.7,385.0 501.0,385.0 501.4,385.0 501.7,385.0 502.1,385.0 502.4,385.0 502.7,385.0 503.1,385.0 503.4,385.0 503.7,385.0 504.1,385.0 504.4,385.0 504.8,385.0 505.1,385.0 505.4,385.0 505.8,385.0 506.1,385.0 506.5,385.0 506.8,385.0 507.1,385.0 507.5,385.0 507.8,385.0 508.1,385.0 508.5,385.0 508.8,385.0 509.2,385.0 509.5,385.0 509.8,385.0 510.2,385.0 510.5,385.0 510.9,385.0 511.2,385.0 511.5,385.0 511.9,385.0 512.2,385.0 512.5,385.0 512.9,385.0 513.2,385.0 513.6,385.0 513.9,385.0 514.2,385.0 514.6,385.0 514.9,385.0 515.2,385.0 515.6,385.0 515.9,385.0 516.3,385.0 516.6,385.0 516.9,385.0 517.3,385.0 517.6,385.0 518.0,385.0 518.3,385.0 518.6,385.0 519.0,385.0 519.3,385.0 519.6,385.0 520.0,385.0 520.3,385.0 520.7,385.0 521.0,385.0 521.3,385.0 521.7,385.0 522.0,385.0 522.4,385.0 522.7,385.0 523.0,385.0 523.4,385.0 523.7,385.0 524.0,385.0 524.4,385.0 524.7,385.0 525.1,385.0 525.4,385.0 525.7,385.0 526.1,385.0 526.4,385.0 526.8,385.0 527.1,385.0 527.4,385.0 527.8,385.0 528.1,385.0 528.4,385.0 528.8,385.0 529.1,385.0 529.5,385.0 529.8,385.0 530.1,385.0 530.5,385.0 530.8,385.0 531.2,385.0 531.5,385.0 531.8,385.0 532.2,385.0 532.5,385.0 532.8,385.0 533.2,385.0 533.5,385.0 533.9,385.0 534.2,385.0 534.5,385.0 534.9,385.0 535.2,385.0 535.6,385.0 535.9,385.0 536.2,385.0 536.6,385.0 536.9,385.0 537.2,385.0 537.6,385.0 537.9,385.0 538.3,385.0 538.6,385.0 538.9,385.0 539.3,385.0 539.6,385.0 540.0,385.0 540.3,385.0 540.6,385.0 541.0,385.0 541.3,385.0 541.6,385.0 542.0,385.0 542.3,385.0 542.7,385.0 543.0,385.0 543.3,385.0 543.7,385.0 544.0,385.0 544.3,385.0 544.7,385.0 545.0,385.0 545.4,385.0 545.7,385.0 546.0,385.0 546.4,385.0 546.7,385.0 547.1,385.0 547.4,385.0 547.7,385.0 548.1,385.0 548.4,385.0 548.7,385.0 549.1,385.0 549.4,385.0 549.8,385.0 550.1,385.0 550.4,385.0 550.8,385.0 551.1,385.0 551.5,385.0 551.8,385.0 552.1,385.0 552.5,385.0 552.8,385.0 553.1,385.0 553.5,385.0 553.8,385.0 554.2,385.0 554.5,385.0 554.8,385.0 555.2,385.0 555.5,385.0 555.9,385.0 556.2,385.0 556.5,385.0 556.9,385.0 557.2,385.0 557.5,385.0 557.9,385.0 558.2,385.0 558.6,385.0 558.9,385.0 559.2,385.0 559.6,385.0 559.9,385.0 560.3,385.0 560.6,385.0 560.9,385.0 561.3,385.0 561.6,385.0 561.9,385.0 562.3,385.0 562.6,385.0 563.0,385.0 563.3,385.0 563.6,385.0 564.0,385.0 564.3,385.0 564.7,385.0 565.0,385.0 565.3,385.0 565.7,385.0 566.0,385.0 566.3,385.0 566.7,385.0 567.0,385.0 567.4,385.0 567.7,385.0 568.0,385.0 568.4,385.0 568.7,385.0 569.1,385.0 569.4,385.0 569.7,385.0 570.1,385.0 570.4,385.0 570.7,385.0 571.1,385.0 571.4,385.0 571.8,385.0 572.1,385.0 572.4,385.0 572.8,385.0 573.1,385.0 573.4,385.0 573.8,385.0 574.1,385.0 574.5,385.0 574.8,385.0 575.1,385.0 575.5,385.0 575.8,385.0 576.2,385.0 576.5,385.0 576.8,384.8 577.2,384.0 577.5,382.6 577.8,380.5 578.2,377.8 578.5,374.4 578.9,370.4 579.2,365.8 579.5,360.6 579.9,354.7 580.2,348.1 580.6,341.0 580.9,333.2 581.2,324.8 581.6,315.7 581.9,306.0 582.2,295.7 582.6,284.7 582.9,273.1 583.3,260.9 583.6,248.0 583.9,234.5 584.3,220.4 584.6,205.6 585.0,190.2 585.3,174.1 585.6,157.5 586.0,140.1 586.3,122.2 586.6,103.6 587.0,84.4" stroke="#f22a2a" stroke-width="1.45"/></g><path d="M454.4 248.3v4.5M454.4 391.3v-4.5M488.3 248.3v4.5M488.3 391.3v-4.5M522.2 248.3v4.5M522.2 391.3v-4.5M556.2 248.3v4.5M556.2 391.3v-4.5M590.2 248.3v4.5M590.2 391.3v-4.5M624.1 248.3v4.5M624.1 391.3v-4.5M452.0 385.0h4.5M654.8 385.0h-4.5M452.0 353.1h4.5M654.8 353.1h-4.5M452.0 321.1h4.5M654.8 321.1h-4.5M452.0 289.1h4.5M654.8 289.1h-4.5M452.0 257.2h4.5M654.8 257.2h-4.5" stroke="#111" stroke-width="1.1" fill="none"/><rect x="452.0" y="248.3" width="202.8" height="143.0" fill="none" stroke="#000" stroke-width="1.3"/>
<text class="pt" x="519" y="237.4" textLength="66.8" lengthAdjust="spacingAndGlyphs">ВАХ диода</text><text class="p" x="416.5" y="259.8">8·10</text><text class="p" x="434.5" y="255.8">−3</text><text class="p" x="416.5" y="291.8">6·10</text><text class="p" x="434.5" y="287.8">−3</text><text class="p" x="416.5" y="323.7">4·10</text><text class="p" x="434.5" y="319.7">−3</text><text class="p" x="416.5" y="355.7">2·10</text><text class="p" x="434.5" y="351.7">−3</text><text class="p" x="441.2" y="388.2">0</text><text class="p" x="454.4" y="408.6" text-anchor="middle">-1,5</text><text class="p" x="488.3" y="408.6" text-anchor="middle">-1</text><text class="p" x="522.2" y="408.6" text-anchor="middle">-0,5</text><text class="p" x="556.2" y="408.6" text-anchor="middle">0</text><text class="p" x="590.2" y="408.6" text-anchor="middle">0,5</text><text class="p" x="624.1" y="408.6" text-anchor="middle">1</text><text class="pa" x="543.3" y="425.8" textLength="21.2" lengthAdjust="spacingAndGlyphs">u, V</text><text class="pa" transform="translate(411.8 335.2) rotate(-90)" textLength="33.6" lengthAdjust="spacingAndGlyphs">i(u), А</text>
<rect x="33.2" y="513.4" width="630.3" height="217.5" fill="#fff"/><path d="M123.3 513.4V730.9M213.4 513.4V730.9M303.5 513.4V730.9M393.6 513.4V730.9M483.7 513.4V730.9M573.8 513.4V730.9M33.2 728.2H663.5M33.2 675.1H663.5M33.2 622.0H663.5M33.2 568.9H663.5M33.2 515.8H663.5" stroke="#cdcdcd" stroke-width="0.85" stroke-dasharray="4 2.2" fill="none"/><clipPath id="c2"><rect x="33.2" y="513.4" width="630.3" height="217.5"/></clipPath><g clip-path="url(#c2)" fill="none" stroke-linejoin="round"><path d="M33.2 622.0C33.9 619.3 36.0 606.5 37.4 606.0C38.8 605.5 40.3 613.5 41.7 618.9C43.1 624.3 44.5 636.9 45.9 638.5C47.3 640.2 48.7 634.4 50.1 628.8C51.5 623.1 53.0 607.7 54.4 604.6C55.8 601.6 57.2 604.8 58.6 610.7C60.0 616.5 61.4 635.2 62.8 640.0C64.2 644.7 65.7 645.1 67.1 639.1C68.5 633.2 69.9 611.0 71.3 604.2C72.7 597.3 74.1 592.3 75.5 598.0C76.9 603.6 78.4 628.9 79.8 638.2C81.2 647.5 82.6 658.6 84.0 653.8C85.4 649.0 86.8 621.4 88.2 609.4C89.6 597.5 91.0 579.0 92.5 582.2C93.9 585.4 95.3 614.0 96.7 628.5C98.1 643.0 99.5 670.1 100.9 669.3C102.3 668.6 103.7 640.9 105.2 624.1C106.6 607.3 108.0 571.1 109.4 568.5C110.8 566.0 112.2 590.4 113.6 608.8C115.0 627.3 116.4 672.8 117.9 679.3C119.3 685.8 120.7 667.3 122.1 648.1C123.5 628.8 124.9 574.9 126.3 563.9C127.7 552.9 129.1 563.0 130.6 581.9C132.0 600.8 133.4 661.6 134.8 677.3C136.2 693.0 137.6 693.5 139.0 676.1C140.4 658.8 141.8 593.5 143.3 573.3C144.7 553.1 146.1 540.3 147.5 554.8C148.9 569.4 150.3 636.2 151.7 660.4C153.1 684.6 154.5 710.6 156.0 700.0C157.4 689.4 158.8 624.3 160.2 597.0C161.6 569.7 163.0 530.6 164.4 536.4C165.8 542.1 167.2 602.1 168.7 631.3C170.1 660.5 171.5 711.7 172.9 711.4C174.3 711.1 175.7 659.3 177.1 629.6C178.5 599.9 179.9 538.5 181.4 533.2C182.8 527.9 184.2 568.8 185.6 597.6C187.0 626.4 188.4 695.1 189.8 705.9C191.2 716.6 192.6 688.5 194.0 662.0C195.5 635.5 196.9 562.5 198.3 547.0C199.7 531.5 201.1 545.9 202.5 568.9C203.9 591.9 205.3 665.6 206.7 684.9C208.2 704.3 209.6 703.5 211.0 684.9C212.4 666.3 213.8 595.3 215.2 573.3C216.6 551.4 218.0 539.5 219.4 553.1C220.9 566.8 222.3 632.1 223.7 655.3C225.1 678.6 226.5 701.3 227.9 692.8C229.3 684.2 230.7 627.1 232.1 603.8C233.6 580.6 235.0 549.5 236.4 553.2C237.8 556.9 239.2 604.2 240.6 626.2C242.0 648.3 243.4 684.9 244.8 685.5C246.3 686.1 247.7 649.5 249.1 629.6C250.5 609.7 251.9 570.4 253.3 566.3C254.7 562.2 256.1 588.3 257.5 605.3C259.0 622.3 260.4 661.7 261.8 668.3C263.2 674.9 264.6 658.7 266.0 644.9C267.4 631.1 268.8 593.9 270.2 585.7C271.7 577.5 273.1 585.3 274.5 595.8C275.9 606.3 277.3 639.7 278.7 648.6C280.1 657.5 281.5 656.4 282.9 649.0C284.4 641.6 285.8 613.0 287.2 604.1C288.6 595.3 290.0 591.4 291.4 596.1C292.8 600.8 294.2 624.3 295.6 632.5C297.0 640.8 298.5 648.2 299.9 645.6C301.3 643.1 302.7 624.6 304.1 617.2C305.5 609.8 306.9 600.3 308.3 601.2C309.7 602.0 311.2 615.9 312.6 622.4C314.0 628.9 315.4 639.7 316.8 640.1C318.2 640.5 319.6 630.6 321.0 624.9C322.4 619.2 323.9 607.5 325.3 606.1C326.7 604.7 328.1 611.3 329.5 616.4C330.9 621.4 332.3 634.0 333.7 636.3C335.1 638.7 336.6 635.0 338.0 630.4C339.4 625.8 340.8 612.1 342.2 608.8C343.6 605.4 345.0 606.1 346.4 610.4C347.8 614.6 349.3 629.8 350.7 634.3C352.1 638.9 353.5 641.6 354.9 637.7C356.3 633.8 357.7 617.0 359.1 611.0C360.5 604.9 362.0 598.1 363.4 601.4C364.8 604.7 366.2 622.9 367.6 630.8C369.0 638.6 370.4 650.6 371.8 648.3C373.2 646.0 374.7 626.8 376.1 617.0C377.5 607.3 378.9 589.0 380.3 589.7C381.7 590.5 383.1 609.6 384.5 621.3C385.9 632.9 387.4 658.3 388.8 659.8C390.2 661.4 391.6 644.0 393.0 630.6C394.4 617.3 395.8 584.3 397.2 579.7C398.6 575.2 400.1 589.0 401.5 603.5C402.9 618.0 404.3 658.6 405.7 666.7C407.1 674.8 408.5 667.0 409.9 652.1C411.3 637.3 412.7 589.7 414.2 577.6C415.6 565.4 417.0 565.1 418.4 579.3C419.8 593.6 421.2 646.6 422.6 662.9C424.0 679.2 425.4 689.7 426.9 677.2C428.3 664.7 429.7 608.4 431.1 588.1C432.5 567.8 433.9 545.7 435.3 555.3C436.7 564.8 438.1 621.7 439.6 645.5C441.0 669.3 442.4 703.7 443.8 698.1C445.2 692.5 446.6 638.3 448.0 611.9C449.4 585.4 450.8 538.7 452.3 539.5C453.7 540.3 455.1 588.8 456.5 616.7C457.9 644.6 459.3 702.4 460.7 707.0C462.1 711.5 463.5 671.9 465.0 643.9C466.4 615.8 467.8 548.8 469.2 538.7C470.6 528.7 472.0 556.9 473.4 583.7C474.8 610.4 476.2 684.0 477.7 699.3C479.1 714.6 480.5 699.5 481.9 675.4C483.3 651.2 484.7 574.5 486.1 554.6C487.5 534.7 488.9 535.8 490.4 556.1C491.8 576.4 493.2 652.8 494.6 676.3C496.0 699.8 497.4 712.5 498.8 697.0C500.2 681.4 501.6 608.8 503.1 583.0C504.5 557.1 505.9 531.6 507.3 541.9C508.7 552.2 510.1 618.0 511.5 644.8C512.9 671.6 514.3 707.8 515.7 702.9C517.2 698.0 518.6 641.7 520.0 615.3C521.4 588.8 522.8 544.5 524.2 544.3C525.6 544.1 527.0 589.3 528.4 614.1C529.9 638.9 531.3 688.3 532.7 693.0C534.1 697.6 535.5 664.3 536.9 642.2C538.3 620.1 539.7 568.8 541.1 560.5C542.6 552.2 544.0 573.8 545.4 592.5C546.8 611.1 548.2 661.5 549.6 672.4C551.0 683.2 552.4 672.4 553.8 657.6C555.3 642.8 556.7 595.8 558.1 583.5C559.5 571.2 560.9 572.8 562.3 583.7C563.7 594.6 565.1 636.3 566.5 649.0C568.0 661.8 569.4 667.4 570.8 660.1C572.2 652.9 573.6 617.6 575.0 605.3C576.4 593.0 577.8 582.2 579.2 586.3C580.7 590.4 582.1 618.8 583.5 630.0C584.9 641.2 586.3 655.2 587.7 653.7C589.1 652.1 590.5 630.5 591.9 620.8C593.4 611.0 594.8 595.5 596.2 595.1C597.6 594.7 599.0 610.2 600.4 618.4C601.8 626.5 603.2 642.2 604.6 644.0C606.1 645.8 607.5 635.5 608.9 628.9C610.3 622.3 611.7 607.1 613.1 604.4C614.5 601.7 615.9 607.6 617.3 612.9C618.7 618.1 620.2 632.6 621.6 635.9C623.0 639.3 624.4 637.0 625.8 632.8C627.2 628.6 628.6 614.8 630.0 611.0C631.4 607.1 632.9 606.2 634.3 609.5C635.7 612.7 637.1 626.1 638.5 630.7C639.9 635.2 641.3 639.3 642.7 636.7C644.1 634.2 645.6 621.0 647.0 615.6C648.4 610.2 649.8 602.7 651.2 604.4C652.6 606.1 654.0 619.3 655.4 625.7C656.8 632.2 658.3 643.7 659.7 643.1C661.1 642.5 663.2 625.5 663.9 622.0" stroke="#1c1cf5" stroke-width="1.15"/><polyline points="33.2,622.0 37.4,612.6 41.7,611.8 45.9,612.4 50.1,613.0 54.4,611.9 58.6,608.0 62.8,608.8 67.1,609.6 71.3,610.1 75.5,599.7 79.8,601.0 84.0,602.3 88.2,603.5 92.5,588.1 96.7,589.8 100.9,591.8 105.2,593.6 109.4,578.0 113.6,576.6 117.9,579.3 122.1,581.9 126.3,575.9 130.6,563.0 134.8,566.6 139.0,570.0 143.3,573.1 147.5,551.0 151.7,555.4 156.0,559.4 160.2,563.2 164.4,542.6 168.7,547.1 172.9,551.7 177.1,555.9 181.4,544.2 185.6,543.1 189.8,547.9 194.0,552.4 198.3,555.4 202.5,543.9 206.7,548.6 211.0,553.1 215.2,557.3 219.4,549.4 223.7,553.8 227.9,558.0 232.1,561.9 236.4,559.1 240.6,562.7 244.8,566.3 249.1,569.7 253.3,572.5 257.5,573.8 261.8,576.7 266.0,579.5 270.2,582.0 274.5,584.4 278.7,586.7 282.9,588.9 287.2,590.9 291.4,592.8 295.6,594.5 299.9,596.2 304.1,597.8 308.3,599.2 312.6,600.6 316.8,601.9 321.0,603.1 325.3,604.3 329.5,605.4 333.7,606.4 338.0,607.3 342.2,608.2 346.4,609.0 350.7,609.8 354.9,610.6 359.1,611.3 363.4,605.4 367.6,606.4 371.8,607.3 376.1,608.2 380.3,596.8 384.5,597.2 388.8,598.7 393.0,600.1 397.2,589.6 401.5,584.9 405.7,587.2 409.9,589.3 414.2,588.0 418.4,571.1 422.6,574.2 426.9,577.1 431.1,579.8 435.3,557.7 439.6,561.6 443.8,565.2 448.0,568.7 452.3,548.2 456.5,550.9 460.7,555.3 465.0,559.3 469.2,551.0 473.4,543.9 477.7,548.6 481.9,553.1 486.1,557.2 490.4,541.4 494.6,546.3 498.8,550.9 503.1,555.2 507.3,543.9 511.5,548.6 515.7,553.1 520.0,557.2 524.2,552.6 528.4,555.3 532.7,559.3 536.9,563.1 541.1,566.4 545.4,565.3 549.6,568.7 553.8,571.9 558.1,575.0 562.3,576.8 566.5,579.5 570.8,582.1 575.0,584.5 579.2,586.8 583.5,588.9 587.7,590.9 591.9,592.8 596.2,594.6 600.4,596.3 604.6,597.8 608.9,599.3 613.1,600.7 617.3,602.0 621.6,603.2 625.8,604.3 630.0,605.4 634.3,606.4 638.5,607.3 642.7,608.2 647.0,609.1 651.2,608.9 655.4,609.6 659.7,610.3 663.9,611.1" stroke="#f23030" stroke-width="1.75"/></g><path d="M33.2 513.4v5.3M33.2 730.9v-5.3M123.3 513.4v5.3M123.3 730.9v-5.3M213.4 513.4v5.3M213.4 730.9v-5.3M303.5 513.4v5.3M303.5 730.9v-5.3M393.6 513.4v5.3M393.6 730.9v-5.3M483.7 513.4v5.3M483.7 730.9v-5.3M573.8 513.4v5.3M573.8 730.9v-5.3M663.5 513.4v5.3M663.5 730.9v-5.3M33.2 728.2h5.3M663.5 728.2h-5.3M33.2 675.1h5.3M663.5 675.1h-5.3M33.2 622.0h5.3M663.5 622.0h-5.3M33.2 568.9h5.3M663.5 568.9h-5.3M33.2 515.8h5.3M663.5 515.8h-5.3" stroke="#111" stroke-width="1.1" fill="none"/><rect x="33.2" y="513.4" width="630.3" height="217.5" fill="none" stroke="#000" stroke-width="1.3"/>
<text class="pt" x="272" y="503.1" textLength="151" lengthAdjust="spacingAndGlyphs">Амплитудный детектор</text><text class="q" x="28" y="519.7" text-anchor="end">10</text><text class="q" x="28" y="572.8" text-anchor="end">5</text><text class="q" x="28" y="625.9" text-anchor="end">0</text><text class="q" x="28" y="679.0" text-anchor="end">-5</text><text class="q" x="28" y="732.1" text-anchor="end">-10</text><text class="q" x="32.6" y="750.1" text-anchor="middle">0</text><text class="q" x="103.2" y="750.1" textLength="26.6" lengthAdjust="spacingAndGlyphs">10·10</text><text class="q" style="font-size:9.3px" x="131.2" y="744.4">−5</text><text class="q" x="196.4" y="750.1" textLength="20.6" lengthAdjust="spacingAndGlyphs">2·10</text><text class="q" style="font-size:9.3px" x="218.3" y="744.4">−4</text><text class="q" x="286.5" y="750.1" textLength="20.6" lengthAdjust="spacingAndGlyphs">3·10</text><text class="q" style="font-size:9.3px" x="308.4" y="744.4">−4</text><text class="q" x="376.6" y="750.1" textLength="20.6" lengthAdjust="spacingAndGlyphs">4·10</text><text class="q" style="font-size:9.3px" x="398.5" y="744.4">−4</text><text class="q" x="466.7" y="750.1" textLength="20.6" lengthAdjust="spacingAndGlyphs">5·10</text><text class="q" style="font-size:9.3px" x="488.6" y="744.4">−4</text><text class="q" x="556.8" y="750.1" textLength="20.6" lengthAdjust="spacingAndGlyphs">6·10</text><text class="q" style="font-size:9.3px" x="578.7" y="744.4">−4</text><text class="q" x="646.9" y="750.1" textLength="20.6" lengthAdjust="spacingAndGlyphs">7·10</text><text class="q" style="font-size:9.3px" x="668.8" y="744.4">−</text><text class="q" style="font-size:11.6px" x="334.5" y="768.2" textLength="27.2" lengthAdjust="spacingAndGlyphs">t, сек</text><path d="M309.4 687.8H336.2" stroke="#2020f0" stroke-width="1.15"/><path d="M309.4 709.1H336.2" stroke="#f23030" stroke-width="1.6"/><text class="q" style="font-size:11px" x="342.5" y="691.8" textLength="41.5" lengthAdjust="spacingAndGlyphs">uin(t), В</text><text class="q" style="font-size:11px" x="342.5" y="713.8" textLength="31" lengthAdjust="spacingAndGlyphs">u(t), В</text>
</svg>
</body></html>
